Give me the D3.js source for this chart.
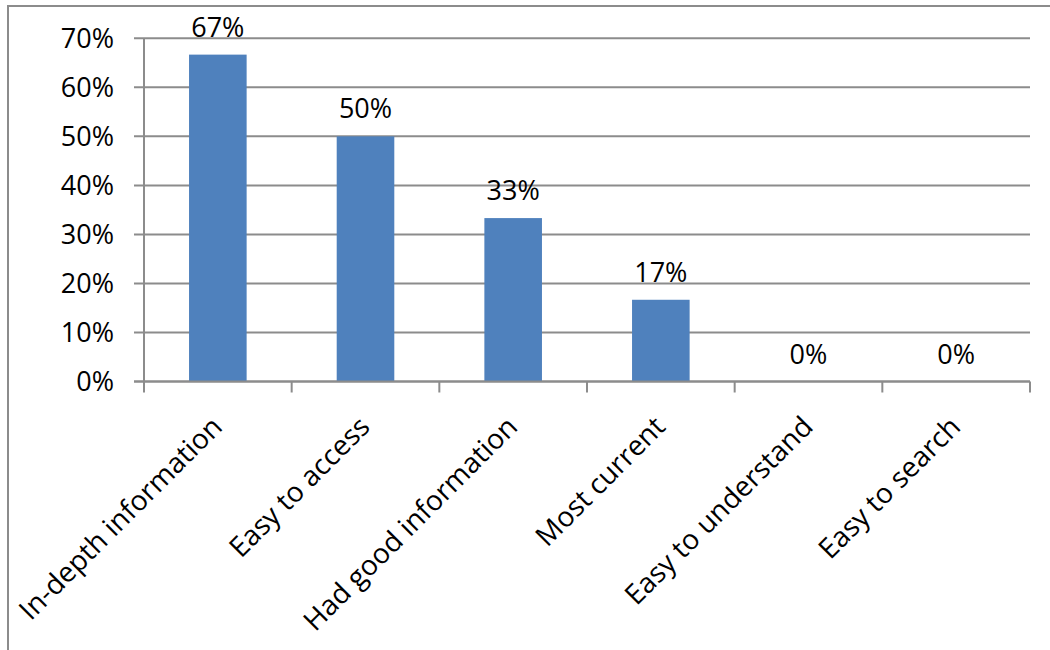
<!DOCTYPE html>
<html>
<head>
<meta charset="utf-8">
<script src="https://cdn.jsdelivr.net/npm/d3@7"></script>
<style>
  html, body { margin: 0; padding: 0; background: #fff; }
  svg { display: block; }
  text { font-family: "Open Sans", "Liberation Sans", sans-serif; fill: #000; }
</style>
</head>
<body>
<svg id="chart" width="1050" height="650"></svg>
<script>
const categories = ["In-depth information", "Easy to access", "Had good information", "Most current", "Easy to understand", "Easy to search"];
const values = [0.6667, 0.5, 0.3333, 0.1667, 0, 0];
const valueLabels = ["67%", "50%", "33%", "17%", "0%", "0%"];
const yTicks = [0, 0.1, 0.2, 0.3, 0.4, 0.5, 0.6, 0.7];
const yTickLabels = ["0%", "10%", "20%", "30%", "40%", "50%", "60%", "70%"];

const svg = d3.select("#chart");
const gridColor = "#8c8c8c";
const barColor = "#4f81bd";

// outer frame
svg.append("rect")
  .attr("x", 8).attr("y", 6).attr("width", 1060).attr("height", 660)
  .attr("fill", "none").attr("stroke", gridColor).attr("stroke-width", 2);

const plot = { left: 144, right: 1030, top: 38.3, bottom: 381.5 };

const x = d3.scaleBand().domain(categories).range([plot.left, plot.right]).paddingInner(0).paddingOuter(0);
const y = d3.scaleLinear().domain([0, 0.7]).range([plot.bottom, plot.top]);

// gridlines (with left tick marks)
svg.append("g").selectAll("line").data(yTicks).join("line")
  .attr("x1", plot.left - 10).attr("x2", plot.right)
  .attr("y1", d => y(d)).attr("y2", d => y(d))
  .attr("stroke", gridColor).attr("stroke-width", 2);

// y axis line
svg.append("line")
  .attr("x1", plot.left).attr("x2", plot.left)
  .attr("y1", y(0.7)).attr("y2", y(0))
  .attr("stroke", gridColor).attr("stroke-width", 2);

// y tick labels
svg.append("g").selectAll("text").data(yTicks).join("text")
  .attr("x", 114).attr("y", d => y(d)).attr("dy", "0.36em")
  .attr("text-anchor", "end").attr("font-size", 27)
  .text((d, i) => yTickLabels[i]);

// x axis tick marks at band boundaries
const boundaries = categories.map(c => x(c)).concat([plot.right]);
svg.append("g").selectAll("line").data(boundaries).join("line")
  .attr("x1", d => d).attr("x2", d => d)
  .attr("y1", y(0)).attr("y2", y(0) + 11)
  .attr("stroke", gridColor).attr("stroke-width", 2);

// bars
const barW = x.bandwidth() * 0.39;
svg.append("g").selectAll("rect").data(values).join("rect")
  .attr("x", (d, i) => x(categories[i]) + x.bandwidth() / 2 - barW / 2)
  .attr("width", barW)
  .attr("y", d => y(d))
  .attr("height", d => y(0) - y(d))
  .attr("fill", barColor);

// redraw baseline above bars
svg.append("line")
  .attr("x1", plot.left - 10).attr("x2", plot.right)
  .attr("y1", y(0)).attr("y2", y(0))
  .attr("stroke", gridColor).attr("stroke-width", 2);

// value labels
svg.append("g").selectAll("text").data(values).join("text")
  .attr("x", (d, i) => x(categories[i]) + x.bandwidth() / 2)
  .attr("y", d => y(d) - 18)
  .attr("text-anchor", "middle").attr("font-size", 27)
  .text((d, i) => valueLabels[i]);

// category labels rotated
svg.append("g").selectAll("text").data(categories).join("text")
  .attr("transform", d => `translate(${x(d) + x.bandwidth() / 2 + 6},${y(0) + 47}) rotate(-45)`)
  .attr("text-anchor", "end").attr("font-size", 28)
  .text(d => d);
</script>
</body>
</html>
